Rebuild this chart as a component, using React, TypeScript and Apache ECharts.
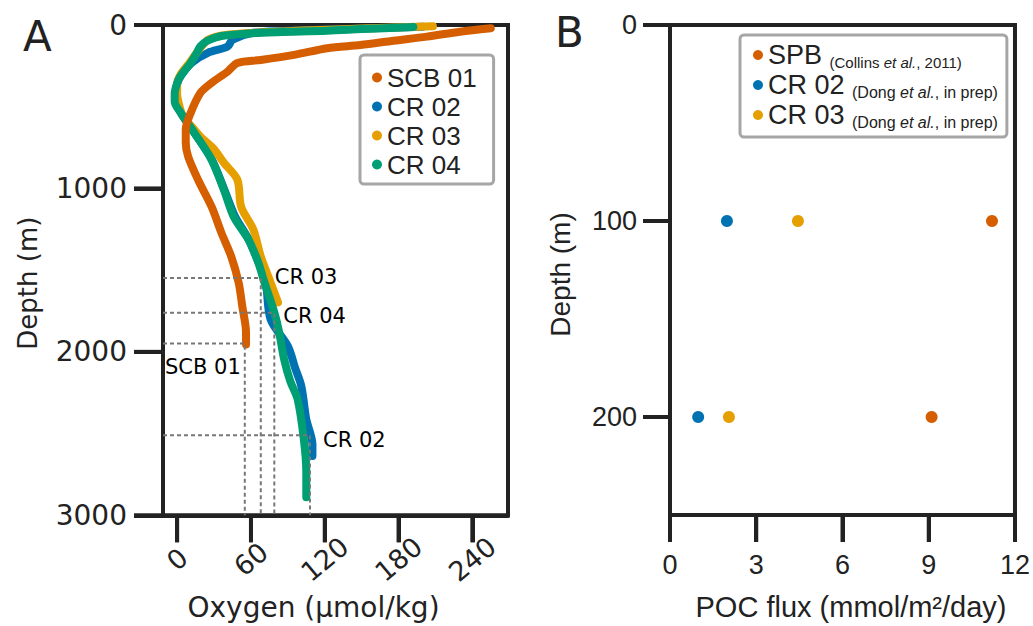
import React, { useEffect, useRef } from "react";
import * as echarts from "echarts";

// ---------- Panel A: oxygen profiles (O2 µmol/kg, depth m) ----------
const profileNames = ["SCB 01", "CR 02", "CR 03", "CR 04"];

const scb01O2 = [255, 230, 203, 176, 149, 122, 95, 68, 49, 41, 28, 19, 11, 7, 7, 9, 17, 28, 36, 44, 50, 53, 56, 56];
const scb01Depth = [20, 41, 71, 96, 122, 142, 183, 214, 232, 285, 354, 415, 538, 641, 720, 806, 947, 1112, 1272, 1417, 1576, 1723, 1882, 1955];

const cr02O2 = [200, 140, 100, 60, 45, 41, 25, 12, 4, 0, -1, 3, 14, 28, 38, 47, 58, 66, 72, 76, 90, 96, 101, 105, 110, 110];
const cr02Depth = [10, 25, 33, 50, 90, 132, 170, 230, 300, 360, 450, 538, 660, 820, 1000, 1170, 1310, 1450, 1576, 1802, 1965, 2100, 2211, 2413, 2566, 2638];

const cr03O2 = [208, 150, 110, 70, 38, 25, 20, 15, 10, 3, 0, 0, 2, 5, 14, 19, 30, 38, 49, 52, 62, 68, 76, 82];
const cr03Depth = [8, 22, 32, 45, 62, 90, 130, 180, 232, 300, 360, 420, 500, 560, 640, 684, 760, 843, 947, 1112, 1252, 1417, 1576, 1698];

const cr04O2 = [192, 150, 122, 68, 36, 25, 19, 16, 11, 5, 1, -2, -2, 3, 14, 28, 38, 46, 58, 66, 71, 79, 83, 87, 92, 98, 103, 105, 105];
const cr04Depth = [12, 25, 35, 47, 67, 95, 130, 170, 232, 290, 336, 420, 470, 538, 660, 825, 1008, 1173, 1313, 1454, 1576, 1759, 1882, 2046, 2180, 2291, 2535, 2737, 2889];

// reference (dashed) markers
const refNames = ["CR 03", "CR 04", "SCB 01", "CR 02"];
const refO2 = [68, 79, 55, 108];
const refDepth = [1548, 1761, 1949, 2511];

const oxygenTicks = [0, 60, 120, 180, 240];
const depthTicksA = [0, 1000, 2000, 3000];

// ---------- Panel B: POC flux ----------
const fluxNames = ["SPB", "CR 02", "CR 03"];
const fluxDepths = [100, 200];
const spbFlux = [11.2, 9.1];
const cr02Flux = [1.98, 0.98];
const cr03Flux = [4.45, 2.05];
const fluxTicks = [0, 3, 6, 9, 12];
const depthTicksB = [0, 100, 200];

const COLORS: Record<string, string> = {
  "SCB 01": "#D55E00",
  SPB: "#D55E00",
  "CR 02": "#0072B2",
  "CR 03": "#E69F00",
  "CR 04": "#009E73",
};

const INK = "#222222";
const SANS = "DejaVu Sans";
const ARIAL = "Liberation Sans";

const zip = (xs: number[], ys: number[]) => xs.map((x, i) => [x, ys[i]]);

const legendSub: Record<string, [string, string, number]> = {
  SPB: ["(Collins ", ", 2011)", 15],
  "CR 02": ["(Dong ", ", in prep)", 16],
  "CR 03": ["(Dong ", ", in prep)", 16],
};

const plain = (v: number) => String(v);

const tickStyle = () => ({ width: 4, color: INK });
const axisLineStyle = () => ({ show: true, onZero: false, lineStyle: { width: 4, color: INK } });

export default function App() {
  const ref = useRef<HTMLDivElement>(null);

  useEffect(() => {
    if (!ref.current) return;
    const chart = echarts.init(ref.current, null, { renderer: "svg" });

    const xMinA = -11.5;
    const xMaxA = 269;
    const yMaxA = 3000;
    const yMaxB = 250;

    const profileData: Record<string, number[][]> = {
      "SCB 01": zip(scb01O2, scb01Depth),
      "CR 02": zip(cr02O2, cr02Depth),
      "CR 03": zip(cr03O2, cr03Depth),
      "CR 04": zip(cr04O2, cr04Depth),
    };
    const drawOrder = ["CR 02", "CR 03", "CR 04", "SCB 01"];

    const profileSeries = drawOrder.map((name) => ({
      type: "line",
      name,
      xAxisIndex: 0,
      yAxisIndex: 0,
      data: profileData[name],
      showSymbol: false,
      symbol: "circle",
      smooth: 0.3,
      color: COLORS[name],
      itemStyle: { color: COLORS[name], opacity: 1 },
      lineStyle: { color: COLORS[name], width: 8, cap: "round", join: "round" },
      z: 3,
      silent: true,
    }));

    const refSeries = refNames.map((name, i) => ({
      type: "line",
      name: "ref " + name,
      xAxisIndex: 0,
      yAxisIndex: 0,
      data: [
        [xMinA, refDepth[i]],
        [refO2[i], refDepth[i]],
        [refO2[i], yMaxA],
      ],
      showSymbol: false,
      symbol: "none",
      lineStyle: { color: "#777777", width: 2, type: [4, 3] },
      z: 4,
      silent: true,
    }));

    const labelOffsets: Record<string, { position: string; offset: number[] }> = {
      "CR 03": { position: "right", offset: [14, -1] },
      "CR 04": { position: "right", offset: [9, 3] },
      "SCB 01": { position: "left", offset: [-4, 23] },
      "CR 02": { position: "right", offset: [13, 5] },
    };

    const labelSeries = {
      type: "scatter",
      name: "ref labels",
      xAxisIndex: 0,
      yAxisIndex: 0,
      symbolSize: 0,
      silent: true,
      z: 5,
      itemStyle: { opacity: 1 },
      data: refNames.map((name, i) => ({
        value: [refO2[i], refDepth[i]],
        label: {
          show: true,
          formatter: name,
          position: labelOffsets[name].position,
          distance: 0,
          offset: labelOffsets[name].offset,
          fontSize: 21,
          fontFamily: SANS,
          color: "#000",
        },
      })),
    };

    const fluxSeries = [
      { name: "SPB", vals: spbFlux },
      { name: "CR 02", vals: cr02Flux },
      { name: "CR 03", vals: cr03Flux },
    ].map((s) => ({
      type: "scatter",
      name: s.name,
      xAxisIndex: 1,
      yAxisIndex: 1,
      data: zip(s.vals, fluxDepths),
      symbolSize: 12,
      itemStyle: { color: COLORS[s.name], opacity: 1 },
      z: 3,
    }));

    // Outward tick marks placed through the axes' own scales (api.coord)
    const tickMarks = (
      name: string,
      xIdx: number,
      yIdx: number,
      data: number[][],
      dir: "down" | "left",
      len: number
    ) => ({
      type: "custom",
      name,
      xAxisIndex: xIdx,
      yAxisIndex: yIdx,
      silent: true,
      clip: false,
      z: 10,
      data,
      renderItem: (_params: any, api: any) => {
        const p = api.coord([api.value(0), api.value(1)]);
        const shape =
          dir === "down"
            ? { x1: p[0], y1: p[1], x2: p[0], y2: p[1] + len }
            : { x1: p[0] - len, y1: p[1], x2: p[0], y2: p[1] };
        return { type: "line", shape, style: { stroke: INK, lineWidth: 4 } };
      },
    });

    const tickSeries = [
      tickMarks("ticks x A", 0, 0, oxygenTicks.map((v) => [v, yMaxA]), "down", 27),
      tickMarks("ticks x B", 1, 1, fluxTicks.map((v) => [v, yMaxB]), "down", 27),
      tickMarks("ticks y B", 1, 1, depthTicksB.map((d) => [0, d]), "left", 27),
      tickMarks("ticks y A", 0, 0, depthTicksA.map((d) => [xMinA, d]), "left", 29),
    ];

    const option: any = {
      animation: false,
      backgroundColor: "#ffffff",
      grid: [
        {
          left: 163, top: 25, width: 345, height: 491,
          show: true, borderColor: INK, borderWidth: 4, backgroundColor: "transparent",
        },
        {
          left: 670, top: 25, width: 347, height: 491,
          show: true, borderColor: INK, borderWidth: 4, backgroundColor: "transparent",
        },
      ],
      xAxis: [
        {
          type: "value",
          gridIndex: 0,
          position: "bottom",
          min: xMinA,
          max: xMaxA,
          axisLine: axisLineStyle(),
          splitLine: { show: false },
          axisTick: { show: true, customValues: oxygenTicks, length: 27, lineStyle: tickStyle() },
          axisLabel: {
            customValues: oxygenTicks,
            formatter: plain,
            rotate: 40,
            align: "center",
            verticalAlign: "middle",
            margin: 44,
            fontSize: 27,
            fontFamily: SANS,
            color: INK,
          },
          name: "Oxygen (µmol/kg)",
          nameLocation: "middle",
          nameGap: 75,
          nameTextStyle: { fontSize: 28, fontFamily: SANS, color: INK, padding: [0, 44, 0, 0] },
        },
        {
          type: "value",
          gridIndex: 1,
          position: "bottom",
          min: 0,
          max: 12,
          interval: 3,
          axisLine: axisLineStyle(),
          splitLine: { show: false },
          axisTick: { show: true, length: 27, lineStyle: tickStyle() },
          axisLabel: {
            formatter: plain,
            margin: 36,
            fontSize: 27,
            fontFamily: ARIAL,
            color: INK,
          },
          name: "POC flux (mmol/m²/day)",
          nameLocation: "middle",
          nameGap: 77,
          nameTextStyle: { fontSize: 29, fontFamily: ARIAL, color: INK, padding: [0, 0, 0, 17] },
        },
      ],
      yAxis: [
        {
          type: "value",
          gridIndex: 0,
          position: "left",
          inverse: true,
          min: 0,
          max: yMaxA,
          interval: 1000,
          axisLine: axisLineStyle(),
          splitLine: { show: false },
          axisTick: { show: true, length: 29, lineStyle: tickStyle() },
          axisLabel: { formatter: plain, margin: 36, fontSize: 28, fontFamily: SANS, color: INK },
          name: "Depth (m)",
          nameLocation: "middle",
          nameGap: 122,
          nameTextStyle: { fontSize: 26, fontFamily: SANS, color: INK, padding: [0, 26, 0, 0] },
        },
        {
          type: "value",
          gridIndex: 1,
          position: "left",
          inverse: true,
          min: 0,
          max: yMaxB,
          axisLine: axisLineStyle(),
          splitLine: { show: false },
          axisTick: { show: true, customValues: depthTicksB, length: 27, lineStyle: tickStyle() },
          axisLabel: { customValues: depthTicksB, formatter: plain, margin: 33, fontSize: 27, fontFamily: ARIAL, color: INK },
          name: "Depth (m)",
          nameLocation: "middle",
          nameGap: 96,
          nameTextStyle: { fontSize: 28, fontFamily: ARIAL, color: INK, padding: [0, 9, 0, 0] },
        },
      ],
      legend: [
        {
          left: 360,
          top: 55,
          orient: "vertical",
          data: profileNames,
          icon: "circle",
          itemWidth: 10,
          itemHeight: 10,
          itemGap: 0,
          padding: [8, 17, 5, 12],
          borderColor: "#a6a6a6",
          borderWidth: 3,
          borderRadius: 4,
          backgroundColor: "#ffffff",
          selectedMode: false,
          textStyle: { fontSize: 26, fontFamily: ARIAL, color: INK, lineHeight: 29 },
        },
        {
          left: 740,
          top: 35,
          orient: "vertical",
          data: fluxNames,
          icon: "circle",
          itemWidth: 10,
          itemHeight: 10,
          itemGap: 0,
          padding: [5, 9, 7, 13],
          borderColor: "#a6a6a6",
          borderWidth: 3,
          borderRadius: 4,
          backgroundColor: "#ffffff",
          selectedMode: false,
          formatter: (name: string) => {
            const s = legendSub[name];
            const k = s[2] === 15 ? "a" : "b";
            return `{m|${name}} {${k}|${s[0]}}{${k}i|et al.}{${k}|${s[1]}}`;
          },
          textStyle: {
            fontSize: 27,
            fontFamily: ARIAL,
            color: INK,
            lineHeight: 30,
            rich: {
              m: { fontSize: 27, fontFamily: ARIAL, color: INK, lineHeight: 30 },
              a: { fontSize: 15, fontFamily: ARIAL, color: INK, lineHeight: 29, verticalAlign: "bottom" },
              ai: { fontSize: 15, fontFamily: ARIAL, fontStyle: "italic", color: INK, lineHeight: 29, verticalAlign: "bottom" },
              b: { fontSize: 16, fontFamily: ARIAL, color: INK, lineHeight: 29, verticalAlign: "bottom" },
              bi: { fontSize: 16, fontFamily: ARIAL, fontStyle: "italic", color: INK, lineHeight: 29, verticalAlign: "bottom" },
            },
          },
        },
      ],
      graphic: [
        {
          type: "text",
          left: 23,
          top: 15,
          style: { text: "A", fontSize: 42, fontFamily: SANS, fill: INK },
        },
        {
          type: "text",
          left: 555,
          top: 11,
          style: { text: "B", fontSize: 42, fontFamily: SANS, fill: INK },
        },
      ],
      series: [...profileSeries, ...refSeries, labelSeries, ...fluxSeries, ...tickSeries],
    };

    chart.setOption(option);
    return () => chart.dispose();
  }, []);

  return (
    <div
      ref={ref}
      style={{ position: "absolute", left: 0, top: 0, width: 1033, height: 626, background: "#fff" }}
    />
  );
}
